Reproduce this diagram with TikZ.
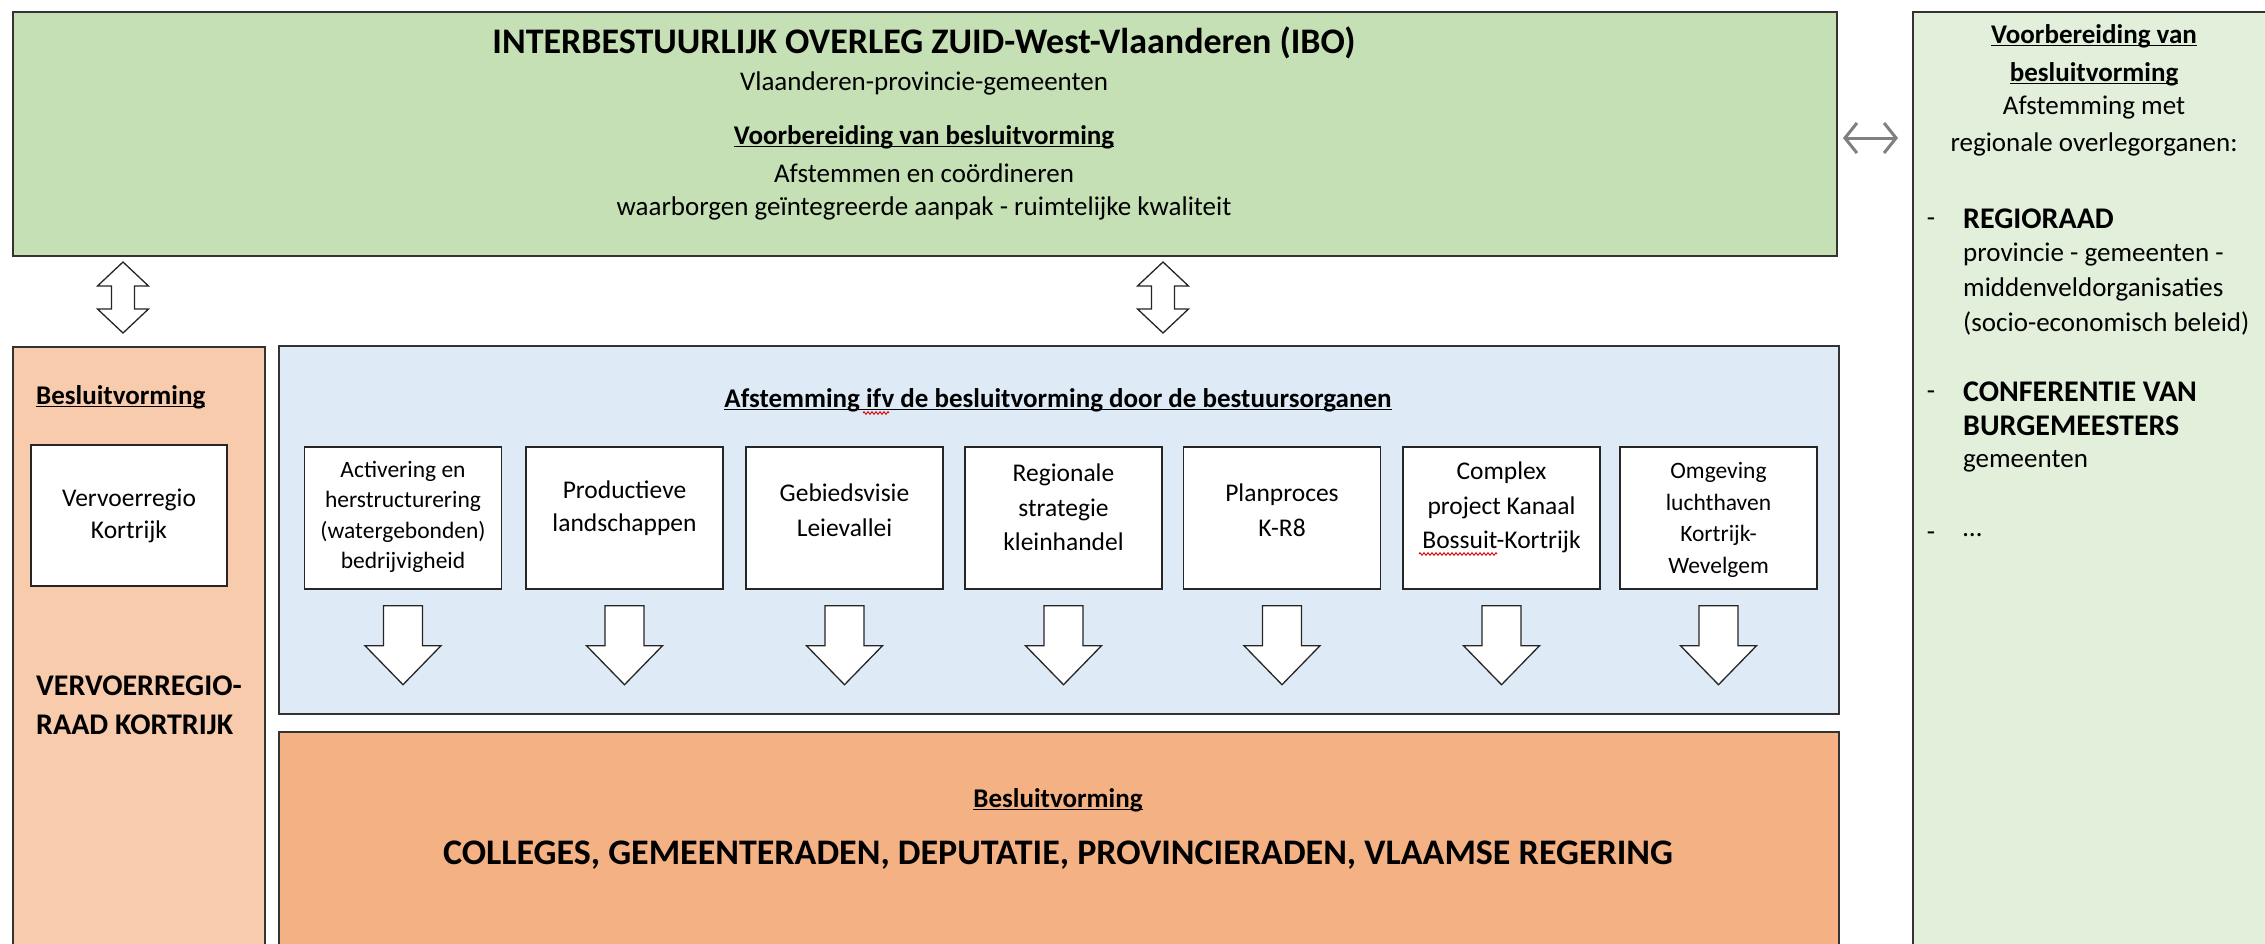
\documentclass[tikz,border=0pt]{standalone}
\usepackage{fontspec}
\setmainfont{Carlito}
\usetikzlibrary{calc,arrows.meta,decorations.pathmorphing}
\definecolor{ibogreen}{HTML}{C5E0B4}
\definecolor{rgreen}{HTML}{E2EFDA}
\definecolor{lorange}{HTML}{F8CBAD}
\definecolor{lblue}{HTML}{DEEBF7}
\definecolor{dorange}{HTML}{F4B183}
\newcommand\myul[1]{\setbox0\hbox{#1}\rlap{\rule[-0.11em]{\wd0}{0.06em}}\box0}
\newcommand\fs[2]{\fontsize{#1}{#2}\selectfont}
\newcommand\dblarrow[1]{\draw[blk] (#1,262) -- (#1+25.5,286) -- (#1+11.5,286) -- (#1+11.5,309) -- (#1+25.5,309) -- (#1,333) -- (#1-25.5,309) -- (#1-11.5,309) -- (#1-11.5,286) -- (#1-25.5,286) -- cycle;}
\newcommand\downarr[1]{\draw[blk] ($(#1.south)+(-19.5,16)$) -- ($(#1.south)+(19.5,16)$) -- ($(#1.south)+(19.5,56)$) -- ($(#1.south)+(38,56)$) -- ($(#1.south)+(0,95)$) -- ($(#1.south)+(-38,56)$) -- ($(#1.south)+(-19.5,56)$) -- cycle;}
\begin{document}
\begin{tikzpicture}[x=1pt,y=-1pt,
  frame/.style={draw=black!80, line width=1.6pt, inner sep=0, anchor=north west},
  wbox/.style={draw=black!85, line width=1.4pt, fill=white, minimum width=197pt, minimum height=142pt, inner sep=0},
  lbl/.style={inner sep=0, align=center},
  lft/.style={inner sep=0, anchor=west, align=left},
  blk/.style={draw=black!85, line width=1.3pt, fill=white, line join=miter},
  squig/.style={draw=red!85!black, line width=0.9pt, decorate, decoration={zigzag, segment length=4pt, amplitude=1.3pt}},
  dbl/.style={draw=black!50, line width=3pt, {Straight Barb[length=12pt,width=30pt]}-{Straight Barb[length=12pt,width=30pt]}}
]
\useasboundingbox (0,0) rectangle (2265,943);
\clip (0,0) rectangle (2265,943);
\fill[white] (0,0) rectangle (2265,943);

% ---------- main frames ----------
\node[frame, fill=ibogreen, minimum width=1824pt, minimum height=244pt] (ibo) at (12,11) {};
\node[frame, fill=rgreen, minimum width=380pt, minimum height=960pt] (rbox) at (1912,11) {};
\node[frame, fill=lorange, minimum width=252pt, minimum height=620pt] (lbox) at (12,346) {};
\node[frame, fill=lblue, minimum width=1560pt, minimum height=368pt] (blue) at (278,345) {};
\node[frame, fill=dorange, minimum width=1560pt, minimum height=240pt] (bot) at (278,731) {};

% ---------- top box texts ----------
\node[lbl, font=\fs{36}{40}\bfseries] (t1) at (924,43) {INTERBESTUURLIJK OVERLEG ZUID-West-Vlaanderen (IBO)};
\node[lbl, font=\fs{27}{30}] (t2) at (924,83) {Vlaanderen-provincie-gemeenten};
\node[lbl, font=\fs{27}{30}\bfseries] (t3) at (924,137) {\myul{Voorbereiding van besluitvorming}};
\node[lbl, font=\fs{27}{30}] (t4) at (924,173) {Afstemmen en coördineren};
\node[lbl, font=\fs{27}{30}] (t5) at (924,208) {waarborgen geïntegreerde aanpak - ruimtelijke kwaliteit};

% ---------- horizontal double arrow ----------
\coordinate (la) at (1843,138);
\coordinate (ra) at (1898,138);
\draw[dbl] (la) -- (ra);

% ---------- right column ----------
\node[lbl, font=\fs{27}{30}\bfseries] (r1) at (2094,36) {\myul{Voorbereiding van}};
\node[lbl, font=\fs{27}{30}\bfseries] (r2) at (2094,74) {\myul{besluitvorming}};
\node[lbl, font=\fs{27}{30}] (r3) at (2094,108) {Afstemming met};
\node[lbl, font=\fs{27}{30}] (r4) at (2094,144) {regionale overlegorganen:};
\node[lbl, font=\fs{27}{30}] (d1) at (1931,222) {-};
\node[lft, font=\fs{30}{32}\bfseries] (r5) at (1963,219) {REGIORAAD};
\node[lft, font=\fs{27}{30}] (r6) at (1963,255) {provincie - gemeenten -};
\node[lft, font=\fs{27}{30}] (r7) at (1963,289) {middenveldorganisaties};
\node[lft, font=\fs{27}{30}] (r8) at (1963,323) {(socio-economisch beleid)};
\node[lbl, font=\fs{27}{30}] (d2) at (1931,395) {-};
\node[lft, font=\fs{30}{32}\bfseries] (r9) at (1963,392) {CONFERENTIE VAN};
\node[lft, font=\fs{30}{32}\bfseries] (r10) at (1963,426) {BURGEMEESTERS};
\node[lft, font=\fs{27}{30}] (r11) at (1963,461) {gemeenten};
\node[lbl, font=\fs{27}{30}] (d3) at (1931,536) {-};
\node[lft, font=\fs{27}{30}] (r12) at (1963,535) {…};

% ---------- vertical double block arrows ----------
\dblarrow{123}
\dblarrow{1163}

% ---------- left column ----------
\node[lft, font=\fs{27}{30}\bfseries] (lb) at (36,397) {\myul{Besluitvorming}};
\node[wbox, minimum width=196pt, minimum height=141pt, font=\fs{25.5}{32}, align=center] (vr) at (129,515.5) {Vervoerregio\\Kortrijk};
\node[lft, font=\fs{30}{32}\bfseries] (vv1) at (36,686) {VERVOERREGIO-};
\node[lft, font=\fs{30}{32}\bfseries] (vv2) at (36,725) {RAAD KORTRIJK};

% ---------- blue box ----------
\node[lbl, font=\fs{27}{30}\bfseries] (bt) at (1058,400) {\myul{Afstemming ifv de besluitvorming door de bestuursorganen}};
\draw[squig] (863,413) -- (889,413);

\node[wbox] (b1) at (403,518) {};
\node[wbox] (b2) at (624.5,518) {};
\node[wbox] (b3) at (844.5,518) {};
\node[wbox] (b4) at (1063.5,518) {};
\node[wbox] (b5) at (1282,518) {};
\node[wbox] (b6) at (1501.5,518) {};
\node[wbox] (b7) at (1718.5,518) {};

\node[lbl, font=\fs{23.5}{30.5}] (x1) at (403,517) {Activering en\\herstructurering\\(watergebonden)\\bedrijvigheid};
\node[lbl, font=\fs{25.5}{33}] (x2) at (624.5,508.5) {Productieve\\landschappen};
\node[lbl, font=\fs{25.5}{35}] (x3) at (844.5,510.5) {Gebiedsvisie\\Leievallei};
\node[lbl, font=\fs{25.5}{34.5}] (x4) at (1063.5,507.5) {Regionale\\strategie\\kleinhandel};
\node[lbl, font=\fs{25.5}{35}] (x5) at (1282,510.5) {Planproces\\K-R8};
\node[lbl, font=\fs{25.5}{34.5}] (x6) at (1501.5,507.5) {Complex\\project Kanaal\\Bossuit-Kortrijk};
\node[lbl, font=\fs{23.5}{31.5}] (x7) at (1718.5,520) {Omgeving\\luchthaven\\Kortrijk-\\Wevelgem};
\draw[squig] (1419,554) -- (1497,554);

\foreach \b in {b1,b2,b3,b4,b5,b6,b7} {\downarr{\b}}

% ---------- bottom box ----------
\node[lbl, font=\fs{27}{30}\bfseries] (bb) at (1058,800) {\myul{Besluitvorming}};
\node[lbl, font=\fs{36}{40}\bfseries] (cg) at (1058,855) {COLLEGES, GEMEENTERADEN, DEPUTATIE, PROVINCIERADEN, VLAAMSE REGERING};
\end{tikzpicture}
\end{document}
